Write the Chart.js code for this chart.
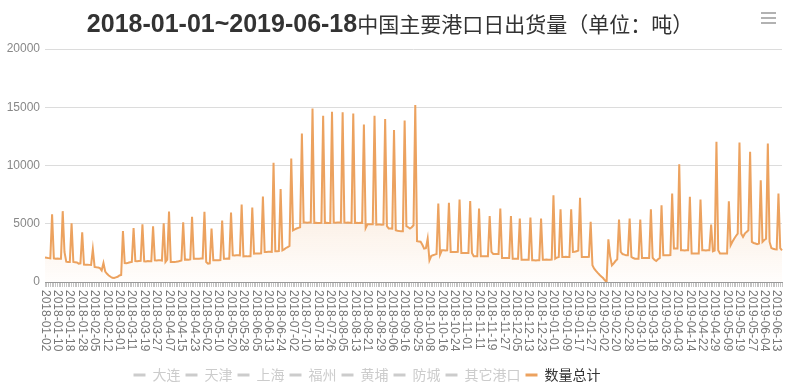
<!DOCTYPE html>
<html lang="zh">
<head>
<meta charset="UTF-8">
<title>中国主要港口日出货量</title>
<script src="https://cdn.jsdelivr.net/npm/chart.js"></script>
<style>
  body { margin: 0; background: #fff; }
  #wrap { width: 785px; height: 387px; }
</style>
</head>
<body>
<div id="wrap"><canvas id="chart" width="785" height="387"></canvas></div>
<script>
const titleBold = '2018-01-01~2019-06-18';
const titleRest = '中国主要港口日出货量（单位：吨）';
const ports = ['大连', '天津', '上海', '福州', '黄埔', '防城', '其它港口'];
const totalName = '数量总计';

// one label every 7 points on the x axis
const labelStep = 7;
const tickLabels = [
  '2018-01-02', '2018-01-10', '2018-01-18', '2018-01-28', '2018-02-05', '2018-02-12', '2018-03-01',
  '2018-03-11', '2018-03-19', '2018-03-27', '2018-04-07', '2018-04-15', '2018-04-23', '2018-05-02',
  '2018-05-10', '2018-05-20', '2018-05-28', '2018-06-05', '2018-06-13', '2018-06-24', '2018-07-02',
  '2018-07-10', '2018-07-18', '2018-07-26', '2018-08-05', '2018-08-13', '2018-08-21', '2018-08-29',
  '2018-09-06', '2018-09-16', '2018-09-25', '2018-10-08', '2018-10-16', '2018-10-24', '2018-11-01',
  '2018-11-11', '2018-11-19', '2018-11-27', '2018-12-05', '2018-12-13', '2018-12-23', '2019-01-01',
  '2019-01-09', '2019-01-17', '2019-01-27', '2019-02-02', '2019-02-20', '2019-02-28', '2019-03-10',
  '2019-03-18', '2019-03-26', '2019-04-03', '2019-04-14', '2019-04-22', '2019-04-29', '2019-05-09',
  '2019-05-19', '2019-05-27', '2019-06-04', '2019-06-13'
];

// 数量总计, daily values
const totals = [
  2100, 2080, 2050, 2030, 5820, 2030, 2000, 2010, 1990, 2000,
  6080, 2580, 1750, 1720, 1720, 5040, 1720, 1700, 1680, 1580,
  1600, 4270, 1500, 1490, 1480, 1470, 1460, 2810, 1300, 1260,
  1250, 1200, 1000, 1630, 900, 700, 560, 450, 360, 340,
  400, 450, 560, 600, 4380, 1630, 1620, 1650, 1700, 1720,
  4640, 1800, 1790, 1800, 1810, 4960, 1780, 1770, 1800, 1790,
  1780, 4790, 1860, 1850, 1870, 1860, 1840, 5040, 1720, 1920,
  6050, 1720, 1710, 1720, 1730, 1750, 1800, 1850, 5130, 1920,
  1930, 1920, 1940, 5590, 2000, 2000, 1990, 2000, 2010, 2020,
  6020, 1720, 1580, 1600, 4590, 1860, 1860, 1870, 1860, 1880,
  5270, 2000, 2000, 2010, 2000, 5960, 2290, 2280, 2290, 2300,
  2290, 6650, 2200, 2210, 2200, 2220, 2210, 6390, 2440, 2450,
  2440, 2450, 2460, 7340, 2580, 2580, 2590, 2600, 2590, 10230,
  2640, 2650, 2660, 7970, 2720, 2800, 2920, 3000, 3100, 10600,
  4440, 4520, 4590, 4650, 4700, 12750, 5100, 5100, 5090, 5100,
  5100, 14900, 5070, 5080, 5070, 5070, 5080, 14270, 5070, 5080,
  5070, 5060, 14610, 5100, 5090, 5100, 5100, 5090, 14560, 5100,
  5090, 5100, 5090, 5080, 14470, 5070, 5080, 5070, 5080, 5070,
  13520, 4640, 4960, 4950, 4960, 4960, 14270, 4930, 4940, 4930,
  4920, 4930, 13980, 4790, 4600, 4590, 4580, 13040, 4440, 4400,
  4370, 4360, 4360, 13870, 4790, 4700, 4590, 4700, 4870, 15190,
  3500, 3480, 3460, 3200, 2870, 2900, 3720, 1860, 2230, 2300,
  2350, 2400, 6730, 2350, 2720, 2720, 2700, 2720, 6790, 2580,
  2580, 2570, 2580, 2590, 7080, 2490, 2490, 2480, 2490, 2490,
  6960, 2490, 2210, 2200, 2210, 6300, 2210, 2210, 2200, 2210,
  2210, 5670, 2580, 2410, 2400, 2410, 2400, 6300, 2060, 2060,
  2050, 2060, 2060, 5670, 2000, 2000, 1990, 2000, 5440, 1920,
  1920, 1910, 1920, 1920, 5530, 1860, 1860, 1850, 1860, 1860,
  5440, 1920, 1920, 1930, 1920, 1920, 1930, 7450, 2000, 2100,
  2150, 6250, 2150, 2150, 2160, 2150, 2150, 6250, 2580, 2600,
  2640, 2700, 7220, 2150, 2150, 2140, 2150, 2160, 5160, 1430,
  1150, 950, 780, 620, 480, 340, 150, 0, 3670, 2200,
  1430, 1600, 1800, 1950, 5360, 2580, 2400, 2350, 2290, 2290,
  5440, 2150, 2060, 2000, 2000, 2000, 5360, 2060, 2060, 2050,
  2060, 2060, 6250, 2080, 1900, 1800, 1950, 2050, 6590, 2290,
  2290, 2300, 2300, 2310, 7590, 2870, 2870, 2880, 10110, 2720,
  2720, 2710, 2720, 2720, 7310, 2440, 2440, 2450, 2440, 2440,
  7080, 2720, 2720, 2710, 2720, 2720, 4930, 2640, 2700, 12030,
  2720, 2440, 2440, 2450, 2440, 2440, 6930, 3150, 3450, 3720,
  3950, 4150, 11980, 4150, 3870, 4150, 4300, 4440, 11180, 3440,
  3350, 3300, 3240, 3300, 8740, 3440, 3600, 3720, 11890, 3440,
  2920, 2850, 2810, 2800, 7590, 2900, 2720
];

const lineColor = '#eca25f';
const mutedColor = '#cccccc';

// categories: the tick label every labelStep points, blanks between
const categories = totals.map((v, i) => (i % labelStep === 0 && tickLabels[i / labelStep]) || '');

const datasets = ports.map(name => ({ label: name, data: [], hidden: true, borderColor: mutedColor }));
datasets.push({
    label: totalName,
    data: totals,
    borderColor: lineColor,
    borderWidth: 2,
    pointRadius: 0,
    tension: 0,
    fill: 'origin',
    backgroundColor(c) {
        const area = c.chart.chartArea;
        if (!area) return 'rgba(236,162,95,0.1)';
        const g = c.chart.ctx.createLinearGradient(0, area.top, 0, area.bottom);
        g.addColorStop(0, 'rgba(236,162,95,0.5)');
        g.addColorStop(1, 'rgba(236,162,95,0.02)');
        return g;
    }
});

// title, toolbox icon and the rotated x labels
const decorations = {
    id: 'decorations',
    afterLayout(chart) {
        const lg = chart.legend;
        lg.left -= 24;
        lg.right -= 24;
        lg.top = 363;
        lg.bottom = lg.top + lg.height;
    },
    afterDraw(chart) {
        const ctx = chart.ctx;
        ctx.save();

        const boldFont = 'bold 25px "Liberation Sans", Arial, sans-serif';
        const restFont = '21px "Noto Sans CJK SC", sans-serif';
        ctx.font = boldFont;
        const w1 = ctx.measureText(titleBold).width;
        ctx.font = restFont;
        const w2 = ctx.measureText(titleRest).width;
        let x = 390 - (w1 + w2) / 2;
        ctx.fillStyle = '#333';
        ctx.textBaseline = 'alphabetic';
        ctx.font = boldFont;
        ctx.fillText(titleBold, x, 32);
        ctx.font = restFont;
        ctx.fillText(titleRest, x + w1, 32);

        ctx.strokeStyle = '#999';
        ctx.lineWidth = 1.5;
        [13, 18, 23].forEach(y => {
            ctx.beginPath();
            ctx.moveTo(761, y);
            ctx.lineTo(776, y);
            ctx.stroke();
        });

        const xs = chart.scales.x;
        ctx.font = '12px "Liberation Sans", Arial, sans-serif';
        ctx.fillStyle = '#777';
        ctx.textAlign = 'left';
        ctx.textBaseline = 'middle';
        tickLabels.forEach((t, k) => {
            const px = xs.getPixelForValue(k * labelStep);
            ctx.save();
            ctx.translate(px, xs.top + 8);
            ctx.rotate(Math.PI / 2);
            ctx.fillText(t, 0, 0);
            ctx.restore();
        });
        ctx.restore();
    }
};

new Chart(document.getElementById('chart'), {
    type: 'line',
    data: { labels: categories, datasets: datasets },
    plugins: [decorations],
    options: {
        responsive: false,
        animation: false,
        devicePixelRatio: 1,
        layout: { padding: { top: 49, right: 3, left: 0, bottom: 0 } },
        plugins: {
            title: { display: false },
            tooltip: { enabled: false },
            legend: {
                position: 'bottom',
                labels: {
                    usePointStyle: true,
                    pointStyleWidth: 12,
                    boxHeight: 12,
                    padding: 5,
                    font: { size: 14, family: '"Noto Sans CJK SC", sans-serif' },
                    generateLabels(chart) {
                        return chart.data.datasets.map((ds, i) => {
                            const on = !ds.hidden;
                            return {
                                text: ds.label,
                                datasetIndex: i,
                                hidden: false,
                                pointStyle: 'line',
                                lineWidth: 3,
                                strokeStyle: on ? lineColor : mutedColor,
                                fillStyle: on ? lineColor : mutedColor,
                                fontColor: on ? '#333' : mutedColor
                            };
                        });
                    }
                }
            }
        },
        scales: {
            x: {
                type: 'category',
                offset: false,
                ticks: { display: false },
                grid: { drawOnChartArea: false, drawTicks: true, tickLength: 5, color: '#c4c4c4' },
                border: { display: true, color: '#999' },
                afterFit(s) { s.height = 76; }
            },
            y: {
                min: 0,
                max: 20000,
                ticks: {
                    stepSize: 5000,
                    padding: 5,
                    color: '#888',
                    font: { size: 12, family: '"Liberation Sans", Arial, sans-serif' },
                    callback: v => String(v)
                },
                grid: { color: '#dcdcdc', drawTicks: false },
                border: { display: false },
                afterFit(s) { s.width = 45; }
            }
        }
    }
});
</script>
</body>
</html>
